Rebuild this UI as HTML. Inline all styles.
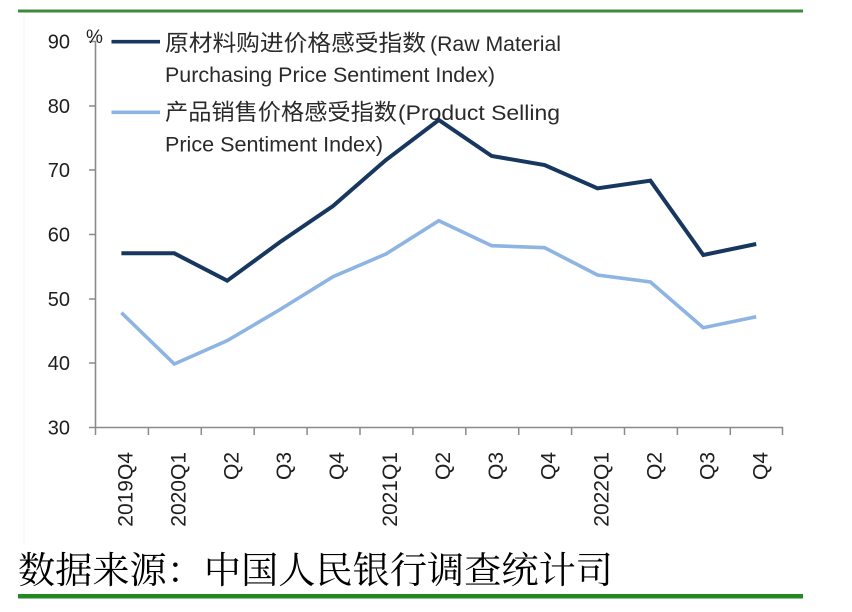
<!DOCTYPE html>
<html>
<head>
<meta charset="utf-8">
<style>
  html, body { margin: 0; padding: 0; background: #ffffff; }
  svg { display: block; }
</style>
</head>
<body>
<svg width="852" height="612" viewBox="0 0 852 612" xmlns="http://www.w3.org/2000/svg">
  <rect x="0" y="0" width="852" height="612" fill="#ffffff"/>
  <!-- faint frame line -->
  <line x1="24" y1="16" x2="24" y2="545" stroke="#f6f6f6" stroke-width="1"/>

  <!-- top green rule -->
  <rect x="18" y="9.5" width="785" height="3" fill="#3c8a3c"/>

  <!-- axes -->
  <line x1="95.5" y1="41" x2="95.5" y2="428" stroke="#8a8a8a" stroke-width="1.6"/>
  <line x1="89" y1="427.5" x2="783" y2="427.5" stroke="#8a8a8a" stroke-width="1.6"/>

  <!-- y ticks -->
  <g stroke="#8a8a8a" stroke-width="1.5">
    <line x1="89" y1="41.5" x2="96" y2="41.5"/>
    <line x1="89" y1="106" x2="96" y2="106"/>
    <line x1="89" y1="170" x2="96" y2="170"/>
    <line x1="89" y1="234.5" x2="96" y2="234.5"/>
    <line x1="89" y1="299" x2="96" y2="299"/>
    <line x1="89" y1="363" x2="96" y2="363"/>
  </g>
  <!-- x ticks -->
  <g stroke="#8a8a8a" stroke-width="1.5">
    <line x1="95.5" y1="427" x2="95.5" y2="435"/>
    <line x1="148.4" y1="427" x2="148.4" y2="435"/>
    <line x1="201.3" y1="427" x2="201.3" y2="435"/>
    <line x1="254.2" y1="427" x2="254.2" y2="435"/>
    <line x1="307.1" y1="427" x2="307.1" y2="435"/>
    <line x1="360" y1="427" x2="360" y2="435"/>
    <line x1="412.9" y1="427" x2="412.9" y2="435"/>
    <line x1="465.8" y1="427" x2="465.8" y2="435"/>
    <line x1="518.7" y1="427" x2="518.7" y2="435"/>
    <line x1="571.6" y1="427" x2="571.6" y2="435"/>
    <line x1="624.5" y1="427" x2="624.5" y2="435"/>
    <line x1="677.4" y1="427" x2="677.4" y2="435"/>
    <line x1="730.3" y1="427" x2="730.3" y2="435"/>
    <line x1="782.5" y1="427" x2="782.5" y2="435"/>
  </g>

  <!-- y labels -->
  <g font-family="'Liberation Sans', sans-serif" font-size="20" fill="#1e1e1e" text-anchor="end">
    <text x="70" y="48.5">90</text>
    <text x="70" y="113">80</text>
    <text x="70" y="177">70</text>
    <text x="70" y="241.5">60</text>
    <text x="70" y="306">50</text>
    <text x="70" y="370">40</text>
    <text x="70" y="434.5">30</text>
  </g>
  <text x="86" y="43" font-family="'Liberation Sans', sans-serif" font-size="19" fill="#1e1e1e">%</text>

  <!-- x labels (rotated) -->
  <g font-family="'Liberation Sans', sans-serif" font-size="21" fill="#1e1e1e" text-anchor="end">
    <text transform="translate(132.5,452) rotate(-90)">2019Q4</text>
    <text transform="translate(185.4,452) rotate(-90)">2020Q1</text>
    <text transform="translate(238.3,452) rotate(-90)">Q2</text>
    <text transform="translate(291.2,452) rotate(-90)">Q3</text>
    <text transform="translate(344.1,452) rotate(-90)">Q4</text>
    <text transform="translate(397,452) rotate(-90)">2021Q1</text>
    <text transform="translate(449.9,452) rotate(-90)">Q2</text>
    <text transform="translate(502.8,452) rotate(-90)">Q3</text>
    <text transform="translate(555.7,452) rotate(-90)">Q4</text>
    <text transform="translate(608.6,452) rotate(-90)">2022Q1</text>
    <text transform="translate(661.5,452) rotate(-90)">Q2</text>
    <text transform="translate(714.4,452) rotate(-90)">Q3</text>
    <text transform="translate(767.3,452) rotate(-90)">Q4</text>
  </g>

  <!-- series -->
  <polyline fill="none" stroke="#8eb4e3" stroke-width="3.6" stroke-linejoin="miter"
    points="121.4,312.7 174.3,364 227.2,340.7 280.1,309.5 333,276.7 385.9,254 438.8,220.7 491.7,245.7 544.6,247.7 597.5,275 650.4,282 703.3,327.7 756.2,316.7"/>
  <polyline fill="none" stroke="#17375e" stroke-width="4" stroke-linejoin="miter"
    points="121.4,253.3 174.3,253.3 227.2,280.7 280.1,242 333,206 385.9,160 438.8,120 491.7,156 544.6,165 597.5,188.3 650.4,180.7 703.3,255 756.2,244"/>

  <!-- legend -->
  <line x1="111.5" y1="41.7" x2="160" y2="41.7" stroke="#17375e" stroke-width="3.6"/>
  <line x1="111.5" y1="112.3" x2="160" y2="112.3" stroke="#8eb4e3" stroke-width="3.6"/>
  <g fill="#2a2a2a">
    <text x="165" y="51" font-family="'Liberation Sans', 'Noto Sans CJK SC', sans-serif" font-size="22.5" textLength="261" lengthAdjust="spacingAndGlyphs">原材料购进价格感受指数</text>
    <text x="430" y="51" font-family="'Liberation Sans', sans-serif" font-size="21" textLength="131" lengthAdjust="spacingAndGlyphs">(Raw  Material</text>
    <text x="165" y="82" font-family="'Liberation Sans', sans-serif" font-size="21" textLength="330" lengthAdjust="spacingAndGlyphs">Purchasing Price Sentiment Index)</text>
    <text x="165" y="120" font-family="'Liberation Sans', 'Noto Sans CJK SC', sans-serif" font-size="22.5" textLength="232" lengthAdjust="spacingAndGlyphs">产品销售价格感受指数</text>
    <text x="398" y="120" font-family="'Liberation Sans', sans-serif" font-size="21" textLength="162" lengthAdjust="spacingAndGlyphs">(Product Selling</text>
    <text x="165" y="151.5" font-family="'Liberation Sans', sans-serif" font-size="21" textLength="218" lengthAdjust="spacingAndGlyphs">Price Sentiment Index)</text>
  </g>

  <!-- source -->
  <text x="18" y="583" font-family="'Noto Serif CJK SC', 'Liberation Serif', serif" font-size="37" fill="#000000" textLength="595" lengthAdjust="spacingAndGlyphs">数据来源：中国人民银行调查统计司</text>

  <!-- bottom green rule -->
  <rect x="18" y="594" width="785" height="4.5" fill="#238a23"/>
</svg>
</body>
</html>
